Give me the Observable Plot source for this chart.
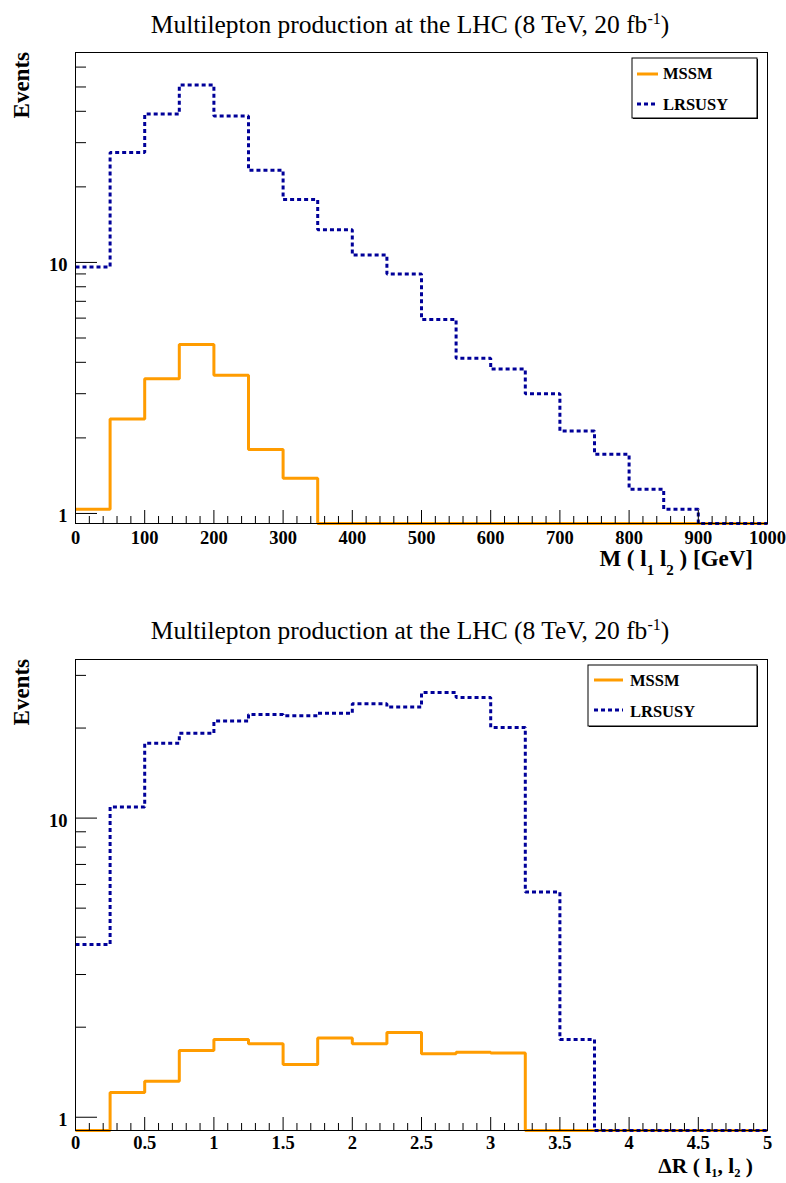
<!DOCTYPE html>
<html>
<head>
<meta charset="utf-8">
<script src="https://cdn.jsdelivr.net/npm/d3@7"></script>
<script src="https://cdn.jsdelivr.net/npm/@observablehq/plot@0.6"></script>
<style>
  body { margin: 0; background: #fff; }
  #root { position: relative; width: 786px; height: 1183px; overflow: hidden; background: #fff; }
  .panel { position: absolute; left: 0; }
  #overlay { position: absolute; left: 0; top: 0; pointer-events: none; }
  text { font-family: "Liberation Serif", "Times New Roman", serif; }
</style>
</head>
<body>
<div id="root">
  <div class="panel" id="p1" style="top:0px"></div>
  <div class="panel" id="p2" style="top:607px"></div>
</div>
<script>
// ---------- data ----------
// Panel 1: invariant mass M(l1 l2) [GeV], bins of 50 GeV
const massEdges = [0, 50, 100, 150, 200, 250, 300, 350, 400, 450, 500, 550, 600, 650, 700, 750, 800, 850, 900, 950, 1000];
const mssmMass   = [1.04, 2.38, 3.44, 4.71, 3.55, 1.80, 1.38, 0, 0, 0, 0, 0, 0, 0, 0, 0, 0, 0, 0, 0];
const lrsusyMass = [9.6, 27.4, 39.0, 50.9, 38.3, 23.3, 17.8, 13.5, 10.7, 9.0, 5.93, 4.15, 3.76, 3.0, 2.13, 1.72, 1.25, 1.04, 0, 0];
const massTickLabels = [0, 100, 200, 300, 400, 500, 600, 700, 800, 900, 1000];

// Panel 2: Delta R(l1, l2), bins of 0.25
const drEdges = [0, 0.25, 0.5, 0.75, 1, 1.25, 1.5, 1.75, 2, 2.25, 2.5, 2.75, 3, 3.25, 3.5, 3.75, 4, 4.25, 4.5, 4.75, 5];
const mssmDR   = [0, 1.21, 1.32, 1.67, 1.82, 1.76, 1.50, 1.84, 1.76, 1.92, 1.63, 1.65, 1.64, 0, 0, 0, 0, 0, 0, 0];
const lrsusyDR = [3.78, 10.9, 17.8, 19.2, 21.1, 22.2, 22.0, 22.4, 24.1, 23.5, 26.3, 25.3, 20.1, 5.66, 1.82, 0, 0, 0, 0, 0];
const drTickLabels = [0, 0.5, 1, 1.5, 2, 2.5, 3, 3.5, 4, 4.5, 5];

const yMajorTicks = [1, 10];
const yMinorTicks = [2, 3, 4, 5, 6, 7, 8, 9, 20, 30, 40, 50, 60];

const seriesNames = ["MSSM", "LRSUSY"];
const COLORS = { MSSM: "#ff9c00", LRSUSY: "#000099" };

// ---------- panel builder ----------
function panel({ edges, mssm, lrsusy, xDomain, yDomain, xTicks, xMinorStep, height, marginTop, marginBottom, xFormat, xPad }) {
  const W = 786, ML = 75, MR = 19;
  const fw = W - ML - MR, fh = height - marginTop - marginBottom;
  const ymin = yDomain[0];
  const steps = vals => edges.map((e, i) => ({ x: e, y: Math.max(vals[Math.min(i, vals.length - 1)], ymin) }));
  const xMinor = d3.range(xDomain[0], xDomain[1] + 1e-9, xMinorStep)
    .filter(v => !xTicks.some(t => Math.abs(t - v) < 1e-6));
  const yMinor = yMinorTicks.filter(v => v > yDomain[0] && v < yDomain[1]);
  const font = { fontFamily: "Liberation Serif, Times New Roman, serif", fontWeight: "bold", fontSize: 18.5 };
  return Plot.plot({
    width: W, height,
    marginLeft: ML, marginRight: MR, marginTop, marginBottom,
    x: { domain: xDomain },
    y: { type: "log", domain: yDomain },
    style: { background: "white", overflow: "visible", color: "black" },
    marks: [
      Plot.line(steps(mssm), { x: "x", y: "y", curve: "step-after", stroke: COLORS.MSSM, strokeWidth: 3, strokeLinejoin: "miter", strokeLinecap: "butt" }),
      Plot.line(steps(lrsusy), { x: "x", y: "y", curve: "step-after", stroke: COLORS.LRSUSY, strokeWidth: 3, strokeDasharray: "4,3", strokeLinejoin: "miter", strokeLinecap: "butt" }),
      Plot.frame({ stroke: "black", strokeWidth: 1 }),
      Plot.ruleY(yMajorTicks, { stroke: "black", insetRight: fw - 22 }),
      Plot.ruleY(yMinor, { stroke: "black", insetRight: fw - 11 }),
      Plot.ruleX(xTicks, { stroke: "black", insetTop: fh - 13 }),
      Plot.ruleX(xMinor, { stroke: "black", insetTop: fh - 7 }),
      Plot.axisY(yMajorTicks, { tickSize: 0, tickPadding: 8, dy: 3, tickFormat: d => String(d), label: null, ...font }),
      Plot.axisX(xTicks, { tickSize: 0, tickPadding: xPad, tickFormat: xFormat, label: null, ...font })
    ]
  });
}

document.getElementById("p1").appendChild(panel({
  edges: massEdges, mssm: mssmMass, lrsusy: lrsusyMass,
  xDomain: [0, 1000], yDomain: [0.912, 68.6],
  xTicks: massTickLabels, xMinorStep: 20,
  height: 600, marginTop: 52, marginBottom: 77,
  xFormat: d => String(d), xPad: 7
}));

document.getElementById("p2").appendChild(panel({
  edges: drEdges, mssm: mssmDR, lrsusy: lrsusyDR,
  xDomain: [0, 5], yDomain: [0.903, 33.9],
  xTicks: drTickLabels, xMinorStep: 0.1,
  height: 576, marginTop: 52, marginBottom: 53,
  xFormat: d => String(d), xPad: 5
}));

// ---------- overlay: titles, axis titles, legends ----------
const svg = d3.select("#root").append("svg").attr("id", "overlay")
  .attr("width", 786).attr("height", 1183);

function addTitle(yBase) {
  const t = svg.append("text").attr("x", 410).attr("y", yBase)
    .attr("text-anchor", "middle").attr("font-size", 25.5).attr("fill", "black");
  t.append("tspan").text("Multilepton production at the LHC (8 TeV, 20 fb");
  t.append("tspan").attr("dy", -9).attr("font-size", 16).text("-1");
  t.append("tspan").attr("dy", 9).text(")");
}
function addYLabel(top) {
  svg.append("text").attr("transform", `translate(29,${top}) rotate(-90)`)
    .attr("text-anchor", "end").attr("font-size", 23).attr("font-weight", "bold").text("Events");
}
function addLegend(x0, y0, x1, y1, lx0, lx1, tx, rows) {
  svg.append("rect").attr("x", x0 + 1).attr("y", y0 + 1).attr("width", x1 - x0).attr("height", y1 - y0)
    .attr("fill", "black");
  svg.append("rect").attr("x", x0).attr("y", y0).attr("width", x1 - x0).attr("height", y1 - y0)
    .attr("fill", "white").attr("stroke", "black").attr("stroke-width", 1);
  rows.forEach((r, i) => {
    const name = seriesNames[i];
    svg.append("line").attr("x1", lx0).attr("x2", lx1).attr("y1", r.ly).attr("y2", r.ly)
      .attr("stroke", COLORS[name]).attr("stroke-width", 3)
      .attr("stroke-dasharray", name === "LRSUSY" ? "4,3" : null);
    svg.append("text").attr("x", tx).attr("y", r.ty).attr("font-size", 16.5).attr("font-weight", "bold").text(name);
  });
}

// Panel 1
addTitle(33);
addYLabel(52);
{
  const t = svg.append("text").attr("x", 753).attr("y", 566).attr("text-anchor", "end")
    .attr("font-size", 23).attr("font-weight", "bold");
  t.append("tspan").text("M ( l");
  t.append("tspan").attr("dy", 9).attr("font-size", 15).text("1");
  t.append("tspan").attr("dy", -9).text(" l");
  t.append("tspan").attr("dy", 9).attr("font-size", 15).text("2");
  t.append("tspan").attr("dy", -9).text(" ) [GeV]");
}
addLegend(632, 58, 757, 118, 637, 658, 663, [{ ly: 74, ty: 79 }, { ly: 104, ty: 110 }]);

// Panel 2
addTitle(639);
addYLabel(659);
{
  const t = svg.append("text").attr("x", 753).attr("y", 1173).attr("text-anchor", "end")
    .attr("font-size", 21.5).attr("font-weight", "bold");
  t.append("tspan").text("\u0394R ( l");
  t.append("tspan").attr("dy", 4).attr("font-size", 12.5).text("1");
  t.append("tspan").attr("dy", -4).text(", l");
  t.append("tspan").attr("dy", 4).attr("font-size", 12.5).text("2");
  t.append("tspan").attr("dy", -4).text(" )");
}
addLegend(588, 665, 757, 726, 594, 623, 630, [{ ly: 680, ty: 686 }, { ly: 710, ty: 717 }]);
</script>
</body>
</html>
